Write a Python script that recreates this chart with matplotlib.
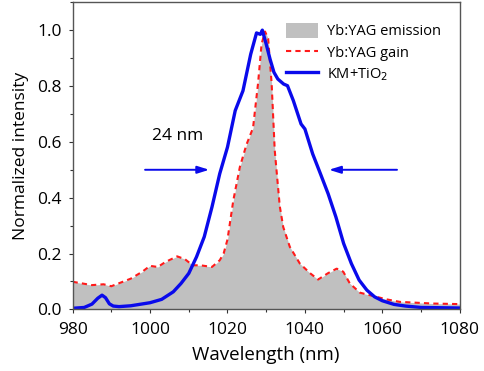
import numpy as np
import matplotlib
matplotlib.use('Agg')
import matplotlib.pyplot as plt
from matplotlib.ticker import MultipleLocator

plt.rcParams['font.family'] = ['Open Sans', 'DejaVu Sans']

# Yb:YAG gain / emission spectrum (same outline)
gain_wl = [980, 985, 988, 990, 995, 998, 1000, 1002, 1004, 1007, 1009, 1011,
           1013, 1016, 1018, 1019, 1020, 1021.5, 1023.2, 1024.9, 1026.6,
           1027.9, 1028.8, 1029.7, 1030.5, 1031.4, 1032.2, 1033.5, 1034.4,
           1036.1, 1038.7, 1041.3, 1043.4, 1046, 1048.2, 1049.9, 1051.6,
           1054.2, 1057.6, 1061.1, 1064.5, 1073.1, 1080]
gain = [0.099, 0.087, 0.09, 0.083, 0.11, 0.135, 0.156, 0.152, 0.17, 0.19,
        0.18, 0.158, 0.158, 0.152, 0.176, 0.2, 0.25, 0.39, 0.51, 0.59, 0.65,
        0.81, 0.95, 0.995, 0.97, 0.81, 0.57, 0.37, 0.295, 0.224, 0.164,
        0.13, 0.107, 0.13, 0.146, 0.135, 0.093, 0.06, 0.048, 0.036, 0.027,
        0.021, 0.019]

# KM+TiO2 spectrum
km_wl = [980, 983, 985, 986.5, 987.6, 988.5, 989.5, 990.5, 992, 995, 1000,
         1003, 1006, 1008, 1010, 1012, 1014, 1016, 1018, 1020, 1022, 1024,
         1026, 1027.5, 1028.5, 1029, 1030, 1031, 1032, 1033, 1034.5, 1035.5,
         1037, 1039, 1040, 1042, 1044, 1046, 1048, 1050, 1052, 1054, 1056,
         1058, 1060, 1063, 1066, 1070, 1080]
km = [0.004, 0.007, 0.019, 0.04, 0.051, 0.042, 0.02, 0.012, 0.01, 0.013,
      0.024, 0.036, 0.063, 0.093, 0.129, 0.188, 0.26, 0.367, 0.486, 0.581,
      0.712, 0.783, 0.914, 0.99, 0.985, 1.0, 0.95, 0.896, 0.849, 0.825,
      0.807, 0.801, 0.748, 0.664, 0.646, 0.557, 0.486, 0.414, 0.331, 0.236,
      0.164, 0.105, 0.069, 0.045, 0.031, 0.018, 0.012, 0.007, 0.005]

fig = plt.figure(figsize=(4.84, 3.71), dpi=100)
ax = fig.add_axes([0.150, 0.166, 0.800, 0.828])

ax.fill_between(gain_wl, gain, 0, color='#c0c0c0', lw=0,
                label='Yb:YAG emission')
ax.plot(gain_wl, gain, '--', color='#ff1a1a', lw=1.5, dashes=(2.5, 2),
        label='Yb:YAG gain')
ax.plot(km_wl, km, '-', color='#0a0aeb', lw=2.4, label='KM+TiO$_2$')

# FWHM arrows
arr = dict(arrowstyle='-|>,head_length=0.7,head_width=0.22', color='#0a0aeb',
           lw=1.4)
ax.annotate('', xy=(1016, 0.5), xytext=(998, 0.5), arrowprops=arr)
ax.annotate('', xy=(1045.5, 0.5), xytext=(1064.5, 0.5), arrowprops=arr)
ax.text(1007, 0.62, '24 nm', fontsize=12.5, ha='center', va='center')

ax.set_xlim(980, 1080)
ax.set_ylim(0, 1.1)
ax.xaxis.set_major_locator(MultipleLocator(20))
ax.xaxis.set_minor_locator(MultipleLocator(10))
ax.yaxis.set_major_locator(MultipleLocator(0.2))
ax.yaxis.set_minor_locator(MultipleLocator(0.1))
ax.yaxis.set_major_formatter(matplotlib.ticker.FormatStrFormatter('%.1f'))
ax.tick_params(which='both', direction='out', top=False, right=False,
               labelsize=12.5, color='#333333', pad=5)
ax.tick_params(axis='x', which='major', pad=6)
ax.tick_params(which='major', length=3, width=0.8)
ax.tick_params(which='minor', length=2, width=0.8)
for s in ax.spines.values():
    s.set_color('#555555')
    s.set_linewidth(1.0)

ax.set_xlabel('Wavelength (nm)', fontsize=13.5, labelpad=6)
ax.set_ylabel('Normalized intensity', fontsize=12.5, labelpad=6)

ax.legend(loc='upper right', frameon=False, fontsize=10.5,
          handlelength=2.2, handleheight=1.2, handletextpad=0.6,
          labelspacing=0.35, borderaxespad=0.5,
          bbox_to_anchor=(0.985, 0.975))

fig.savefig('out.png', dpi=100)
